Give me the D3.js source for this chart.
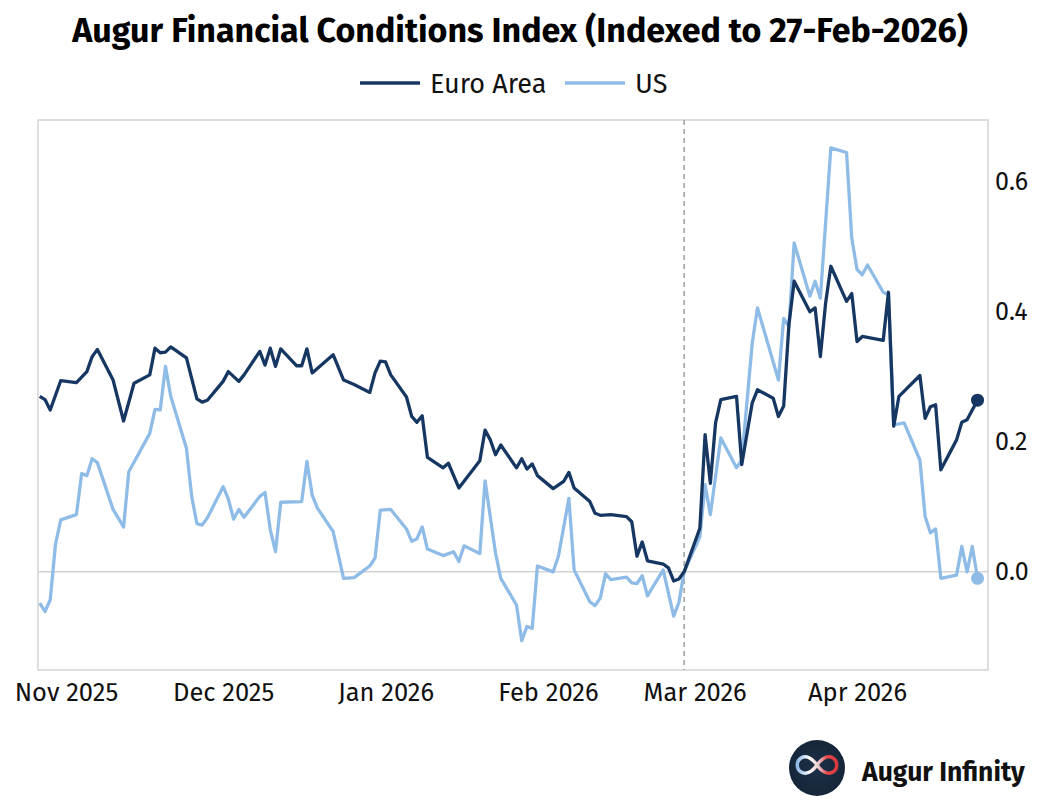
<!DOCTYPE html>
<html>
<head>
<meta charset="utf-8">
<script src="https://cdn.jsdelivr.net/npm/d3@7"></script>
<style>
  body { margin: 0; background: #fff; }
  svg { display: block; font-family: "Fira Sans", Roboto, "Noto Sans", sans-serif; }
</style>
</head>
<body>
<svg id="chart" width="1040" height="812"></svg>
<script>
// values
const euroDates = ["2025-10-27","2025-10-28","2025-10-29","2025-10-31","2025-11-03","2025-11-05","2025-11-06","2025-11-07","2025-11-10","2025-11-12","2025-11-14","2025-11-17","2025-11-18","2025-11-19","2025-11-20","2025-11-21","2025-11-24","2025-11-26","2025-11-27","2025-11-28","2025-12-01","2025-12-02","2025-12-04","2025-12-05","2025-12-08","2025-12-09","2025-12-10","2025-12-11","2025-12-12","2025-12-15","2025-12-16","2025-12-17","2025-12-18","2025-12-22","2025-12-24","2025-12-26","2025-12-29","2025-12-30","2025-12-31","2026-01-01","2026-01-02","2026-01-05","2026-01-06","2026-01-07","2026-01-08","2026-01-09","2026-01-12","2026-01-13","2026-01-15","2026-01-19","2026-01-20","2026-01-21","2026-01-22","2026-01-23","2026-01-26","2026-01-27","2026-01-28","2026-01-29","2026-01-30","2026-02-02","2026-02-04","2026-02-05","2026-02-06","2026-02-09","2026-02-10","2026-02-11","2026-02-13","2026-02-16","2026-02-17","2026-02-18","2026-02-19","2026-02-20","2026-02-23","2026-02-24","2026-02-25","2026-02-26","2026-02-27","2026-03-02","2026-03-03","2026-03-04","2026-03-05","2026-03-06","2026-03-09","2026-03-10","2026-03-12","2026-03-13","2026-03-16","2026-03-17","2026-03-18","2026-03-19","2026-03-20","2026-03-23","2026-03-24","2026-03-25","2026-03-26","2026-03-27","2026-03-30","2026-03-31","2026-04-01","2026-04-02","2026-04-06","2026-04-07","2026-04-08","2026-04-09","2026-04-13","2026-04-14","2026-04-15","2026-04-16","2026-04-17","2026-04-20","2026-04-21","2026-04-22","2026-04-24"];
const euroValues = [0.270,0.265,0.249,0.294,0.291,0.308,0.331,0.342,0.295,0.232,0.290,0.303,0.344,0.337,0.338,0.346,0.329,0.266,0.261,0.264,0.293,0.308,0.293,0.303,0.339,0.318,0.344,0.316,0.343,0.317,0.317,0.343,0.306,0.334,0.295,0.288,0.276,0.306,0.324,0.323,0.303,0.269,0.239,0.230,0.240,0.176,0.160,0.167,0.129,0.171,0.218,0.203,0.180,0.195,0.160,0.174,0.158,0.166,0.148,0.128,0.139,0.153,0.129,0.108,0.090,0.087,0.088,0.085,0.077,0.024,0.046,0.017,0.012,0.006,-0.014,-0.011,0.000,0.067,0.211,0.136,0.229,0.265,0.270,0.165,0.260,0.280,0.267,0.239,0.255,0.380,0.447,0.400,0.406,0.331,0.413,0.470,0.416,0.428,0.354,0.362,0.356,0.430,0.224,0.270,0.302,0.236,0.254,0.257,0.157,0.203,0.230,0.234,0.264];

const usDates = ["2025-10-27","2025-10-28","2025-10-29","2025-10-30","2025-10-31","2025-11-03","2025-11-04","2025-11-05","2025-11-06","2025-11-07","2025-11-10","2025-11-12","2025-11-13","2025-11-17","2025-11-18","2025-11-19","2025-11-20","2025-11-21","2025-11-24","2025-11-25","2025-11-26","2025-11-27","2025-11-28","2025-12-01","2025-12-02","2025-12-03","2025-12-04","2025-12-05","2025-12-08","2025-12-09","2025-12-10","2025-12-11","2025-12-12","2025-12-16","2025-12-17","2025-12-18","2025-12-19","2025-12-22","2025-12-24","2025-12-26","2025-12-29","2025-12-30","2025-12-31","2026-01-02","2026-01-05","2026-01-06","2026-01-07","2026-01-08","2026-01-09","2026-01-12","2026-01-14","2026-01-15","2026-01-16","2026-01-19","2026-01-20","2026-01-22","2026-01-23","2026-01-26","2026-01-27","2026-01-28","2026-01-29","2026-01-30","2026-02-02","2026-02-03","2026-02-05","2026-02-06","2026-02-09","2026-02-10","2026-02-11","2026-02-12","2026-02-13","2026-02-16","2026-02-17","2026-02-18","2026-02-19","2026-02-20","2026-02-23","2026-02-25","2026-02-26","2026-02-27","2026-03-02","2026-03-03","2026-03-04","2026-03-06","2026-03-09","2026-03-10","2026-03-12","2026-03-13","2026-03-17","2026-03-18","2026-03-19","2026-03-20","2026-03-23","2026-03-24","2026-03-25","2026-03-27","2026-03-30","2026-03-31","2026-04-01","2026-04-02","2026-04-03","2026-04-06","2026-04-07","2026-04-08","2026-04-10","2026-04-13","2026-04-14","2026-04-15","2026-04-16","2026-04-17","2026-04-20","2026-04-21","2026-04-22","2026-04-23","2026-04-24"];
const usValues = [-0.048,-0.061,-0.043,0.042,0.080,0.088,0.151,0.148,0.174,0.168,0.096,0.069,0.154,0.213,0.250,0.249,0.316,0.270,0.190,0.116,0.074,0.072,0.083,0.131,0.112,0.081,0.096,0.084,0.116,0.122,0.065,0.031,0.107,0.108,0.170,0.118,0.098,0.062,-0.010,-0.009,0.009,0.021,0.095,0.096,0.066,0.047,0.051,0.069,0.035,0.025,0.031,0.016,0.040,0.028,0.140,0.029,-0.010,-0.051,-0.106,-0.084,-0.087,0.009,0.000,0.024,0.113,0.003,-0.046,-0.052,-0.040,-0.003,-0.012,-0.008,-0.017,-0.018,-0.006,-0.037,0.003,-0.068,-0.047,0.000,0.054,0.134,0.088,0.206,0.160,0.172,0.352,0.406,0.295,0.390,0.377,0.506,0.424,0.447,0.421,0.652,0.645,0.513,0.465,0.457,0.472,0.430,0.426,0.226,0.229,0.172,0.085,0.060,0.066,-0.010,-0.005,0.039,0.000,0.039,-0.010];

const seriesNames = ["Euro Area", "US"];
const seriesColors = ["#173763", "#8fbce7"];
const yTicks = [0, 0.2, 0.4, 0.6];
const monthTicks = ["2025-11-01","2025-12-01","2026-01-01","2026-02-01","2026-03-01","2026-04-01"];
const monthLabels = ["Nov 2025","Dec 2025","Jan 2026","Feb 2026","Mar 2026","Apr 2026"];
const baseDate = "2026-02-27";
const titleText = "Augur Financial Conditions Index (Indexed to 27-Feb-2026)";

const parse = d3.utcParse("%Y-%m-%d");
const svg = d3.select("#chart");
const font = "\"Fira Sans\", Roboto, \"Noto Sans\", sans-serif";

const plot = { left: 38, right: 988, top: 120, bottom: 670 };

const x = d3.scaleUtc()
  .domain([new Date(Date.UTC(2025, 9, 26, 16)), new Date(Date.UTC(2026, 3, 26))])
  .range([plot.left, plot.right]);
const y = d3.scaleLinear()
  .domain([-0.151, 0.695])
  .range([plot.bottom, plot.top]);

const euro = euroDates.map((d, i) => ({ date: parse(d), value: euroValues[i] }));
const us = usDates.map((d, i) => ({ date: parse(d), value: usValues[i] }));

// title
svg.append("text")
  .attr("x", 520).attr("y", 42)
  .attr("text-anchor", "middle")
  .style("font-size", "34px").style("font-weight", 700).style("fill", "#000")
  .text(titleText);

// legend
const legend = svg.append("g").attr("transform", "translate(360,83)");
[[0, 0], [1, 205]].forEach(([i, dx]) => {
  const g = legend.append("g").attr("transform", "translate(" + dx + ",0)");
  g.append("line").attr("x1", 0).attr("x2", 60).attr("y1", 0).attr("y2", 0)
    .attr("stroke", seriesColors[i]).attr("stroke-width", 3.5);
  g.append("text").attr("x", 70).attr("y", 10)
    .style("font-size", "27px").style("fill", "#111")
    .text(seriesNames[i]);
});

// frame
svg.append("rect")
  .attr("x", plot.left).attr("y", plot.top)
  .attr("width", plot.right - plot.left).attr("height", plot.bottom - plot.top)
  .attr("fill", "none").attr("stroke", "#d3d3d3").attr("stroke-width", 1.5);

// zero line
svg.append("line")
  .attr("x1", plot.left).attr("x2", plot.right)
  .attr("y1", y(0)).attr("y2", y(0))
  .attr("stroke", "#d3d3d3").attr("stroke-width", 1.5);

// base date marker
svg.append("line")
  .attr("x1", x(parse(baseDate))).attr("x2", x(parse(baseDate)))
  .attr("y1", plot.top).attr("y2", plot.bottom)
  .attr("stroke", "#9aa3a0").attr("stroke-width", 1.5)
  .attr("stroke-dasharray", "5,4");

// axes
const xAxis = d3.axisBottom(x)
  .tickValues(monthTicks.map(parse))
  .tickFormat((d, i) => monthLabels[i])
  .tickSize(0).tickPadding(13);
svg.append("g")
  .attr("transform", "translate(0," + plot.bottom + ")")
  .call(xAxis)
  .call(g => g.select(".domain").remove())
  .selectAll("text").style("font-size", "25.5px").style("fill", "#111")
  .style("font-family", font);

const yAxis = d3.axisRight(y)
  .tickValues(yTicks)
  .tickFormat(d3.format(".1f"))
  .tickSize(0).tickPadding(7);
svg.append("g")
  .attr("transform", "translate(" + plot.right + ",0)")
  .call(yAxis)
  .call(g => g.select(".domain").remove())
  .selectAll("text").style("font-size", "25px").style("fill", "#111")
  .style("font-family", font);

// lines
const line = d3.line().x(d => x(d.date)).y(d => y(d.value));
svg.append("path").datum(us)
  .attr("fill", "none").attr("stroke", seriesColors[1])
  .attr("stroke-width", 3.3).attr("stroke-linejoin", "round").attr("d", line);
svg.append("path").datum(euro)
  .attr("fill", "none").attr("stroke", seriesColors[0])
  .attr("stroke-width", 3.3).attr("stroke-linejoin", "round").attr("d", line);

// end points
[[euro, 0], [us, 1]].forEach(([data, i]) => {
  const last = data[data.length - 1];
  svg.append("circle")
    .attr("cx", x(last.date)).attr("cy", y(last.value)).attr("r", 6.5)
    .attr("fill", seriesColors[i]);
});

// logo
const defs = svg.append("defs");
const grad = defs.append("linearGradient").attr("id", "infGrad")
  .attr("x1", "0%").attr("x2", "100%");
grad.append("stop").attr("offset", "0%").attr("stop-color", "#8fb8e6");
grad.append("stop").attr("offset", "30%").attr("stop-color", "#ffffff");
grad.append("stop").attr("offset", "55%").attr("stop-color", "#e8c8cc");
grad.append("stop").attr("offset", "75%").attr("stop-color", "#e8484a");
grad.append("stop").attr("offset", "100%").attr("stop-color", "#d83a3c");
const bg = defs.append("radialGradient").attr("id", "logoBg");
bg.append("stop").attr("offset", "0%").attr("stop-color", "#1e3046");
bg.append("stop").attr("offset", "100%").attr("stop-color", "#15263a");

const logo = svg.append("g").attr("transform", "translate(817,768)");
logo.append("circle").attr("r", 28).attr("fill", "url(#logoBg)");
logo.append("path")
  .attr("transform", "translate(0,-3)")
  .attr("d", "M0,0 C-5,-7 -11,-10 -16,-7 C-21,-4 -21,4 -16,7 C-11,10 -5,7 0,0 C5,-7 11,-10 16,-7 C21,-4 21,4 16,7 C11,10 5,7 0,0 Z")
  .attr("fill", "none").attr("stroke", "url(#infGrad)").attr("stroke-width", 3.4);
svg.append("text")
  .attr("x", 862).attr("y", 781)
  .style("font-size", "26.5px").style("font-weight", 700).style("fill", "#111")
  .text("Augur Infinity");
</script>
</body>
</html>
